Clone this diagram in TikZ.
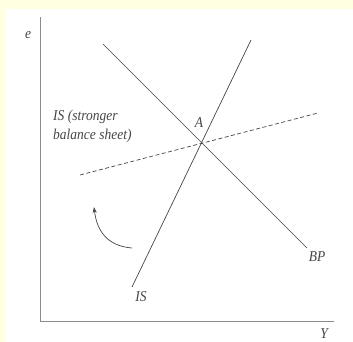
\documentclass[tikz,border=0pt]{standalone}
\usepackage{fontspec}
\setmainfont{Liberation Serif}
\newfontfamily\lblfont{Liberation Serif}[FakeStretch=0.9]
\usetikzlibrary{arrows.meta,positioning}
\definecolor{paper}{RGB}{255,255,226}
\definecolor{ink}{RGB}{70,70,70}

\begin{document}
\begin{tikzpicture}[x=1pt,y=-1pt,
  lbl/.style={font=\lblfont\itshape\fontsize{15}{19}\selectfont,text=ink,inner sep=0pt,
    align=left},
  axis/.style={draw=black!45,line width=0.9pt},
  curve/.style={draw=ink,line width=0.7pt},
  >={Stealth[length=6pt,width=4pt]}]
  % page and panel
  \fill[paper] (0,0) rectangle (353,342);
  \fill[white] (6,9) rectangle (353,342);
  \useasboundingbox (0,0) rectangle (353,342);
  % axes
  \coordinate (ytop) at (40,17);
  \coordinate (o) at (40,321);
  \coordinate (xend) at (334,321);
  \draw[axis] (ytop) -- (o) -- (xend);
  \node[lbl] (e) at (28,35) {e};
  \node[lbl] (Y) at (324,334) {Y};
  % curves
  \coordinate (bp0) at (103,44);
  \coordinate (bp1) at (307,248);
  \coordinate (is0) at (251,40);
  \coordinate (is1) at (132,287);
  \coordinate (isn0) at (80,175);
  \coordinate (isn1) at (318,113);
  \draw[curve] (bp0) -- (bp1);
  \draw[curve] (is0) -- (is1);
  \draw[curve,dash pattern=on 4pt off 2.5pt] (isn0) -- (isn1);
  \node[lbl] (A) at (199,123) {A};
  \node[lbl,anchor=north west] (isnlab) at (53,110) {IS (stronger\\balance sheet)};
  \node[lbl] (islab) at (141,297) {IS};
  \node[lbl] (bplab) at (317,257) {BP};
  % shift arrow
  \coordinate (sh0) at (132,248);
  \coordinate (sh1) at (94,207);
  \draw[curve,->] (sh0) .. controls (108,246) and (97,232) .. (sh1);
\end{tikzpicture}
\end{document}
